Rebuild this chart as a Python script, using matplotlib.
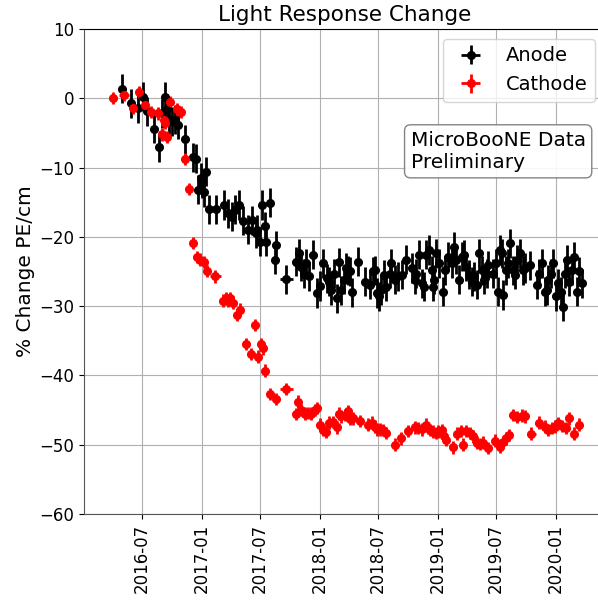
"""Light response change plot — anode vs cathode PE/cm over time."""

import matplotlib
matplotlib.use("Agg")
import matplotlib.pyplot as plt  # noqa: E402
import matplotlib.dates as mdates  # noqa: E402
import numpy as np  # noqa: E402

START = np.datetime64("2016-01-01")

# days since 2016-01-01, % change
anode_day = [
    119, 148, 170, 184, 196, 217, 235, 244, 254, 260, 265, 275, 282, 292,
    313, 339, 349, 354, 364, 367, 372, 380, 388, 411, 435, 447, 461, 468,
    481, 494, 509, 522, 533, 537, 545, 553, 561, 564, 578, 594, 597, 628,
    659, 667, 674, 682, 688, 698, 710, 723, 733, 741, 752, 760, 767, 774,
    784, 791, 798, 805, 811, 819, 826, 832, 849, 870, 886, 896, 901, 907,
    915, 922, 929, 937, 948, 953, 963, 974, 984, 999, 1015, 1025, 1030,
    1038, 1046, 1053, 1061, 1069, 1077, 1080, 1084, 1092, 1100, 1113,
    1118, 1128, 1139, 1146, 1154, 1162, 1170, 1177, 1185, 1193, 1201,
    1208, 1216, 1224, 1232, 1239, 1247, 1252, 1268, 1276, 1283, 1288,
    1294, 1299, 1307, 1314, 1319, 1328, 1335, 1342, 1350, 1359, 1366,
    1381, 1402, 1410, 1417, 1428, 1433, 1438, 1445, 1453, 1462, 1469,
    1476, 1483, 1490, 1495, 1503, 1510, 1518, 1526, 1534, 1541,
]
anode_val = [
    1.4, -0.7, -1.4, 0.2, -1.9, -4.4, -7.1, -2.2, 0.2, -1.5, -3.0, -3.3,
    -3.1, -3.8, -5.9, -8.5, -8.7, -13.2, -11.5, -12.3, -13.6, -10.6,
    -16.0, -16.0, -15.4, -16.6, -17.1, -16.1, -15.4, -17.7, -19.0, -17.6,
    -19.5, -19.0, -20.7, -15.4, -18.5, -20.7, -15.1, -23.3, -21.2, -26.1,
    -23.6, -22.4, -24.3, -25.3, -23.8, -25.7, -22.6, -28.1, -27.1, -23.8,
    -26.0, -26.5, -27.7, -25.3, -28.9, -23.7, -27.7, -26.2, -24.5, -24.8,
    -25.0, -28.0, -23.6, -26.5, -26.9, -25.0, -24.8, -28.1, -28.6, -27.7,
    -25.5, -27.2, -25.3, -23.8, -26.2, -25.7, -25.5, -23.3, -24.5, -26.2,
    -25.3, -22.6, -26.7, -27.2, -22.6, -21.9, -24.8, -27.2, -26.2, -22.4,
    -23.8, -27.9, -24.8, -22.9, -23.8, -21.4, -23.3, -26.2, -22.9, -22.6,
    -24.3, -25.5, -26.5, -25.7, -26.9, -22.4, -24.8, -26.2, -25.3, -24.1,
    -25.3, -23.8, -27.9, -21.9, -22.4, -28.4, -24.8, -23.8, -20.9, -24.8,
    -25.5, -23.3, -22.4, -24.8, -24.5, -24.1, -26.9, -25.3, -23.8, -27.9,
    -27.7, -26.2, -25.3, -23.8, -28.6, -26.7, -27.9, -30.1, -25.3, -23.3,
    -26.5, -24.8, -22.9, -27.9, -25.0, -26.7,
]

cathode_day = [
    91, 125, 153, 173, 192, 210, 230, 244, 248, 251, 258, 269, 289, 303,
    315, 326, 339, 351, 361, 372, 382, 408, 431, 440, 447, 454, 462, 475,
    485, 504, 519, 530, 540, 550, 557, 563, 578, 597, 628, 659, 664, 674,
    684, 695, 705, 715, 723, 733, 741, 749, 760, 772, 783, 791, 798, 808,
    819, 824, 834, 855, 880, 894, 901, 908, 917, 927, 937, 963, 981, 1004,
    1025, 1035, 1046, 1061, 1066, 1072, 1082, 1090, 1097, 1108, 1115,
    1123, 1142, 1156, 1167, 1175, 1185, 1195, 1206, 1216, 1226, 1235,
    1252, 1273, 1288, 1297, 1307, 1317, 1330, 1342, 1356, 1366, 1386,
    1410, 1428, 1438, 1448, 1459, 1469, 1479, 1493, 1503, 1518, 1534,
]
cathode_val = [
    0.0, 0.5, -1.4, 0.9, -1.0, -2.0, -2.2, -5.2, -3.1, -3.6, -5.6, -0.6,
    -1.6, -2.0, -8.8, -13.1, -20.9, -22.9, -23.3, -23.6, -24.9, -25.7,
    -29.2, -28.9, -29.2, -28.9, -29.5, -31.3, -30.5, -35.5, -36.9, -32.7,
    -37.3, -35.5, -36.1, -39.3, -42.7, -43.4, -42.0, -45.6, -43.8, -45.0,
    -45.5, -45.4, -45.5, -45.0, -44.7, -47.1, -47.9, -48.1, -46.8, -46.7,
    -47.5, -45.5, -45.9, -45.7, -45.2, -46.3, -46.2, -46.6, -47.1, -46.8,
    -47.4, -47.8, -47.8, -47.9, -48.3, -50.0, -49.1, -48.0, -47.5, -47.6,
    -47.8, -47.1, -47.6, -47.9, -48.1, -48.3, -48.1, -47.9, -48.8, -49.3,
    -50.4, -48.4, -48.0, -50.0, -48.0, -48.3, -48.8, -49.7, -49.9, -49.7,
    -50.5, -49.4, -50.3, -49.6, -49.1, -48.6, -45.7, -46.0, -45.8, -45.9,
    -48.4, -46.8, -47.4, -47.9, -47.6, -47.4, -46.9, -47.3, -47.6, -46.2,
    -48.4, -47.1,
]

anode_yerr = 2.1
cathode_yerr = 0.9
# time bin half widths (days); most bins are short
default_xerr = 3
anode_xerr_wide = {628: 21}
cathode_xerr_wide = {91: 12, 125: 15, 408: 17, 628: 21, 1386: 15}


def to_num(days):
    dates = START + np.array(days, dtype="timedelta64[D]")
    return mdates.date2num(dates)


def xerr_for(days, wide):
    return [wide.get(d, default_xerr) for d in days]


fig = plt.figure(figsize=(5.98, 6.01), dpi=100)
ax = fig.add_axes([0.1405, 0.1448, 0.871, 0.807])

ax.errorbar(to_num(anode_day), anode_val, yerr=anode_yerr,
            xerr=xerr_for(anode_day, anode_xerr_wide),
            fmt="o", color="black", ms=5.5, elinewidth=2, label="Anode")
ax.errorbar(to_num(cathode_day), cathode_val, yerr=cathode_yerr,
            xerr=xerr_for(cathode_day, cathode_xerr_wide),
            fmt="o", color="red", ms=5.5, elinewidth=2, label="Cathode")

ax.set_xlim(mdates.date2num(np.datetime64("2016-01-03")),
            mdates.date2num(np.datetime64("2020-06-01")))
ax.set_ylim(-60, 10)
ax.set_yticks(range(-60, 11, 10))
ax.xaxis.set_major_locator(mdates.MonthLocator(bymonth=[1, 7]))
ax.xaxis.set_major_formatter(mdates.DateFormatter("%Y-%m"))
ax.tick_params(axis="x", labelrotation=90, labelsize=12)
ax.tick_params(axis="y", labelsize=12)
ax.grid(True)
ax.set_axisbelow(True)

ax.spines["right"].set_visible(False)
ax.spines["left"].set_color("#555555")
ax.spines["bottom"].set_color("#555555")

ax.set_title("Light Response Change", fontsize=15.5)
ax.set_ylabel("% Change PE/cm", fontsize=14.5, labelpad=3)
ax.legend(loc="upper right", fontsize=14)
ax.text(0.627, 0.79, "MicroBooNE Data\nPreliminary", transform=ax.transAxes,
        fontsize=14.5, ha="left", va="top",
        bbox=dict(boxstyle="round", facecolor="white", edgecolor="#777777",
                  alpha=0.9))

fig.savefig("out.png", dpi=100)
